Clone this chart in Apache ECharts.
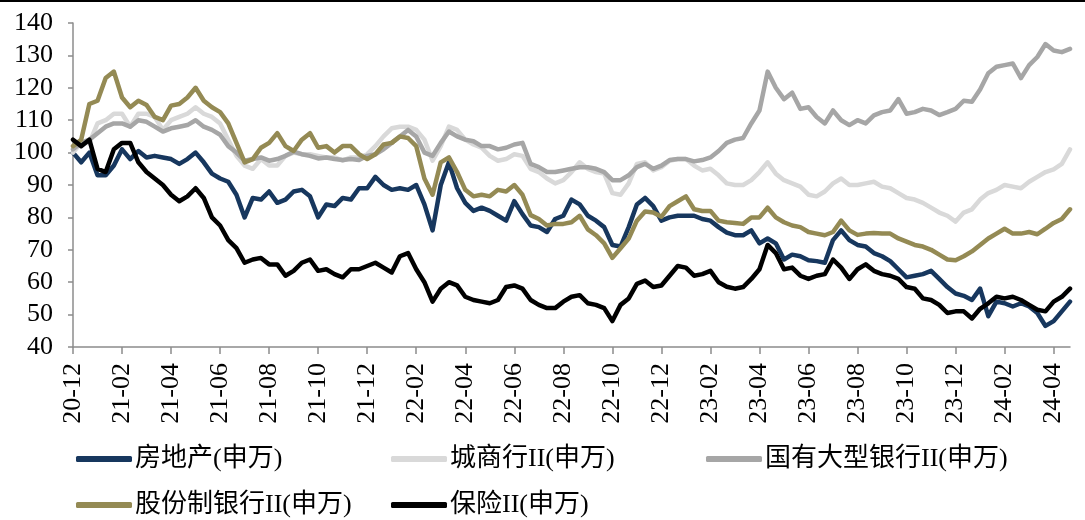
<!DOCTYPE html>
<html>
<head>
<meta charset="utf-8">
<script src="https://cdn.jsdelivr.net/npm/echarts/dist/echarts.min.js"></script>
<style>
html,body{margin:0;padding:0;background:#fff;}
#chart{width:1085px;height:520px;}
</style>
</head>
<body>
<div id="chart"></div>
<script>
// ---- data ----
// sample dates: 1st, 11th, 21st of each month, 2020-12 .. 2024-04
const sampleDays = ['01', '11', '21'];
const categories = [];
for (let k = 0; k < 41; k++) {
  const y = 2020 + Math.floor((11 + k) / 12);
  const m = (11 + k) % 12 + 1;
  for (const d of sampleDays) categories.push(y + '-' + String(m).padStart(2, '0') + '-' + d);
}
const xTickLabels = ['20-12','21-02','21-04','21-06','21-08','21-10','21-12','22-02','22-04','22-06','22-08','22-10','22-12','23-02','23-04','23-06','23-08','23-10','23-12','24-02','24-04'];
const yTicks = { min: 40, max: 140, step: 10 };

const seriesNames = ['房地产(申万)', '城商行II(申万)', '国有大型银行II(申万)', '股份制银行II(申万)', '保险II(申万)'];

const realEstate = [100,97,100,93,93,96,101,98,100.5,98.5,99,98.5,98,96.5,98,100,97,93.5,92,91,87,
80,86,85.5,88,84.5,85.5,88,88.5,86.5,80,84,83.5,86,85.5,89,89,92.5,90,88.5,89,
88.5,90,84,76,90,97,89,84.5,82,83,82,80.5,79,85,81,77.5,77,75.5,79.5,80.5,
85.5,84,80.5,79,77,71.5,71,77,84,86,83.5,79,80,80.5,80.5,80.5,79.5,79,77,75.3,
74.5,74.5,76,72,73.5,72,67,68.5,68,66.8,66.5,66,73,76,73,71.5,71,69,68,66.5,
64,61.5,62,62.5,63.5,61,58.5,56.5,55.8,54.5,58,49.5,54,53.5,52.5,53.5,52.5,50.5,46.5,48,51,54];

const cityBanks = [100,103,103,109,110,112,112,108,112,112,111,107,110,111,112,114,112,111,109,104,99,
96,95,98,96,96,99,100,99.5,99.5,99,98.5,98.5,97.5,98.5,98.5,99.5,102,105,107.5,108,
108,107,104,97.5,102,108,107,104,102.5,101.5,99,97.5,98,99.5,99,95,94,92,90.5,91.5,
94,97,95,94,93.5,87.5,87,90.5,96.5,97,94.5,95.5,97.5,98,98,96,94.5,95,93,90.5,
90,90,91.5,94,97,93.5,91.5,90.5,89.5,87,86.5,88,90.5,92,90,90,90.5,91,89.5,89,
87.5,86,85.5,84.5,83,81.5,80.5,78.7,81.5,82.5,85.5,87.5,88.5,90,89.5,89,91,92.5,94,94.8,96.5,101];

const stateBanks = [101,103,104,106,108,109,109,108,110,109.5,108,106.5,107.5,108,108.5,110,108,107,105.5,102,100,
97.5,98,98.5,97.5,98,99,100.3,99.5,99,98.2,98.5,98,97.7,98,97.7,99,99.5,101,103,105,
107,105,100,99,103,106.5,105,104,103.5,102,102,101,101.5,102.5,103,96.5,95.5,94,94,94.5,
95,95.5,95.5,95,94,91.5,91.5,93,95.5,96.5,95,96,97.7,98,98,97.3,97.7,98.5,100.5,103,
104,104.5,109,113,125,120,116.5,118.5,113.5,114,111,109,113,110,108.5,110,109,111.5,112.5,113,
116.5,112,112.5,113.5,113,111.6,112.5,113.5,116,115.7,119.5,124.5,126.5,127,127.5,123,127,129.5,133.5,131.5,131,132];

const jointStockBanks = [102,104,115,116,123,125,117,114,116,114.7,111,110,114.5,115,117,120,116,114,112.5,109,103,
97,98,101.5,103,106,102,100.5,104,106,101.5,102,100,102,102,99.5,98,99.5,102.5,103,105,
104.5,102,92,87,97,98.5,94,88.5,86.5,87,86.5,88.5,88,90,87,80.7,79.5,77.5,78,78,
78.5,80.5,76.3,74.5,72,67.5,70.5,73.5,79,81.8,81.5,80.2,83.5,85,86.5,82.5,82,82,79,78.5,
78.3,78,80,80,83,80,78.5,77.5,77,75.5,75,74.5,75.5,79,76,74.6,75,75.2,75,75,
73.5,72.5,71.5,71,70,68.5,67,66.8,68,69.5,71.5,73.5,75,76.5,75,75,75.5,74.8,76.5,78.3,79.5,82.5];

const insurance = [104,102,104,95,94,101,103,103,97,94,92,90,87,85,86.5,89,86,80,77.5,73,70.5,
66,67,67.5,65.5,65.5,62,63.5,66,67,63.5,64,62.5,61.5,64,64,65,66,64.5,63,68,
69,64,60,54,58,60,59,55.5,54.5,54,53.5,54.5,58.5,59,58,54.5,53,52,52,54,
55.5,56,53.5,53,52,48,53,55,59.5,60.5,58.5,59,62,65,64.5,62,62.5,63.5,60,58.6,
58,58.5,61,64,71.5,69,64,64.5,62,61,62,62.5,67,64.5,61,64,65.5,63.5,62.5,62,
61,58.5,58,55,54.5,53,50.5,51,51,48.8,51.8,53.5,55.5,55,55.5,54.5,53,51.5,51,54,55.5,58];

const seriesData = [realEstate, cityBanks, stateBanks, jointStockBanks, insurance];
const colors = ['#17375E', '#D9D9D9', '#A6A6A6', '#948A54', '#000000'];

// ---- chart ----
const fmt = v => v.slice(2, 7);
const tickSet = new Set(xTickLabels);
const showTick = (idx, v) => v.slice(8) === '01' && tickSet.has(fmt(v));
const serif = '"Liberation Serif", "Times New Roman", "Noto Sans CJK SC", serif';
const axisColor = '#8C8C8C';

const legendPos = [
  { left: 76, top: 446 }, { left: 391, top: 446 }, { left: 706, top: 446 },
  { left: 76, top: 492 }, { left: 391, top: 492 }
];

const chart = echarts.init(document.getElementById('chart'), null, { renderer: 'canvas' });
chart.setOption({
  animation: false,
  backgroundColor: '#ffffff',
  color: colors,
  graphic: [{ type: 'rect', left: 0, top: 0, shape: { width: 1085, height: 2 }, style: { fill: '#000' } }],
  grid: { left: 73, right: 15, top: 23, bottom: 173, containLabel: false },
  legend: seriesNames.map((n, i) => ({
    data: [n], left: legendPos[i].left, top: legendPos[i].top,
    padding: 0, itemGap: 0, itemWidth: 56, itemHeight: 6, icon: 'roundRect',
    textStyle: { fontFamily: serif, fontSize: 26, color: '#000', padding: [0, 0, 0, -2] }
  })),
  xAxis: {
    type: 'category', data: categories, boundaryGap: false,
    axisLine: { lineStyle: { color: axisColor, width: 1.5 } },
    axisTick: { interval: showTick, length: 7, lineStyle: { color: axisColor, width: 1.5 } },
    axisLabel: { interval: showTick, formatter: fmt, rotate: 90, margin: 16,
      fontFamily: serif, fontSize: 26, color: '#000' },
    splitLine: { show: false }
  },
  yAxis: {
    type: 'value', min: yTicks.min, max: yTicks.max, interval: yTicks.step,
    axisLine: { show: true, lineStyle: { color: axisColor, width: 1.5 } },
    axisTick: { show: true, length: 5, lineStyle: { color: axisColor, width: 1.5 } },
    axisLabel: { margin: 20, fontFamily: serif, fontSize: 26, color: '#000' },
    splitLine: { show: false }
  },
  series: seriesNames.map((n, i) => ({
    name: n, type: 'line', data: seriesData[i], showSymbol: false, symbol: 'none',
    lineStyle: { width: 4.5, color: colors[i], cap: 'round', join: 'round' },
    itemStyle: { color: colors[i] }
  }))
});
</script>
</body>
</html>
